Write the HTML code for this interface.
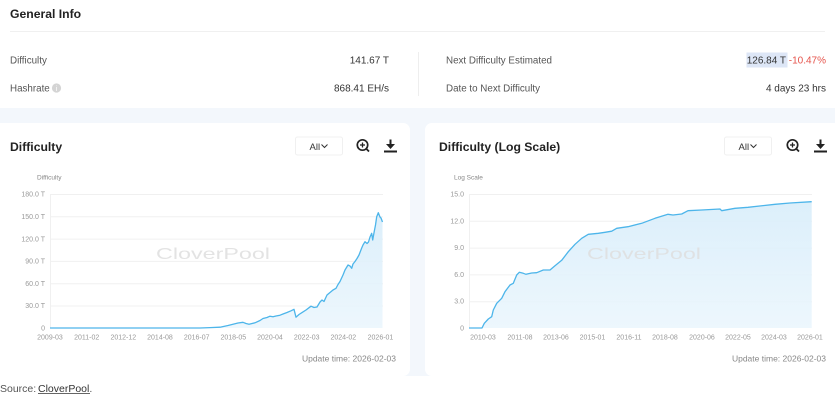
<!DOCTYPE html>
<html><head><meta charset="utf-8"><style>
html,body{margin:0;padding:0;background:#fff;}
body{width:835px;height:400px;overflow:hidden;position:relative;font-family:"Liberation Sans",Arial,sans-serif;}
svg{position:absolute;left:0;top:0;}
</style></head><body>
<svg width="835" height="400" viewBox="0 0 835 400" xmlns="http://www.w3.org/2000/svg" font-family="Liberation Sans, Arial, sans-serif">
<defs>
<linearGradient id="g" x1="0" y1="0" x2="0" y2="1">
<stop offset="0" stop-color="#d8edfa" stop-opacity="0.9"/>
<stop offset="1" stop-color="#ebf6fd" stop-opacity="0.9"/>
</linearGradient>
</defs>
<rect x="0" y="0" width="835" height="400" fill="#fff"/>
<!-- General info -->
<text x="10" y="18" font-size="12.2" font-weight="bold" fill="#222">General Info</text>
<line x1="10" y1="31.5" x2="825" y2="31.5" stroke="#f0f0f0" stroke-width="1"/>
<text x="10" y="63.5" font-size="9.8" fill="#555">Difficulty</text>
<text x="389" y="63.5" font-size="10" fill="#333" text-anchor="end">141.67 T</text>
<text x="10" y="91.5" font-size="9.8" fill="#555">Hashrate</text>
<circle cx="56.5" cy="88" r="4.6" fill="#d4d4d4"/>
<text x="56.5" y="91" font-size="7" fill="#fff" text-anchor="middle">i</text>
<text x="389" y="91.5" font-size="10" fill="#333" text-anchor="end">868.41 EH/s</text>
<line x1="418.5" y1="52" x2="418.5" y2="96" stroke="#eee" stroke-width="1"/>
<text x="446" y="63.5" font-size="9.8" fill="#555">Next Difficulty Estimated</text>
<rect x="746.5" y="52.5" width="41" height="15" fill="#dde6f6"/>
<text x="786" y="63.5" font-size="10" fill="#333" text-anchor="end">126.84 T</text>
<text x="826" y="63.5" font-size="10" fill="#e5534b" text-anchor="end">-10.47%</text>
<text x="446" y="91.5" font-size="9.8" fill="#555">Date to Next Difficulty</text>
<text x="826" y="91.5" font-size="10" fill="#333" text-anchor="end">4 days 23 hrs</text>

<!-- background band -->
<rect x="0" y="108" width="835" height="268" fill="#f3f7fc"/>
<rect x="-10" y="123" width="420" height="253" rx="7" fill="#fff"/>
<rect x="425" y="123" width="420" height="253" rx="7" fill="#fff"/>

<!-- Left card header -->
<text x="10" y="151" font-size="12.2" font-weight="bold" fill="#222">Difficulty</text>
<rect x="295.5" y="137" width="47" height="18" rx="2" fill="#fff" stroke="#f0f0f0"/>
<text x="309.5" y="150" font-size="9.5" fill="#333">All</text>
<path d="M321.5,144.5 L324.5,147.5 L327.5,144.5" fill="none" stroke="#333" stroke-width="1"/>
<circle cx="362.5" cy="145" r="5.2" fill="none" stroke="#222" stroke-width="1.7"/>
<line x1="366.3" y1="148.8" x2="369" y2="151.5" stroke="#222" stroke-width="1.8"/>
<line x1="360" y1="145" x2="365" y2="145" stroke="#222" stroke-width="1.3"/>
<line x1="362.5" y1="142.5" x2="362.5" y2="147.5" stroke="#222" stroke-width="1.3"/>
<line x1="390.5" y1="139.5" x2="390.5" y2="147" stroke="#222" stroke-width="2"/>
<path d="M386,144 L390.5,149 L395,144 Z" fill="#222"/>
<rect x="384" y="150.5" width="13" height="2" fill="#222"/>

<!-- Right card header -->
<text x="439" y="151" font-size="12.2" font-weight="bold" fill="#222">Difficulty (Log Scale)</text>
<rect x="724.5" y="137" width="47" height="18" rx="2" fill="#fff" stroke="#f0f0f0"/>
<text x="738.5" y="150" font-size="9.5" fill="#333">All</text>
<path d="M750.5,144.5 L753.5,147.5 L756.5,144.5" fill="none" stroke="#333" stroke-width="1"/>
<circle cx="792.5" cy="145" r="5.2" fill="none" stroke="#222" stroke-width="1.7"/>
<line x1="796.3" y1="148.8" x2="799" y2="151.5" stroke="#222" stroke-width="1.8"/>
<line x1="790" y1="145" x2="795" y2="145" stroke="#222" stroke-width="1.3"/>
<line x1="792.5" y1="142.5" x2="792.5" y2="147.5" stroke="#222" stroke-width="1.3"/>
<line x1="820.5" y1="139.5" x2="820.5" y2="147" stroke="#222" stroke-width="2"/>
<path d="M816,144 L820.5,149 L825,144 Z" fill="#222"/>
<rect x="814" y="150.5" width="13" height="2" fill="#222"/>

<!-- Left chart -->
<text x="37" y="179.5" font-size="6.5" fill="#888">Difficulty</text>
<g stroke="#f0f0f0" stroke-width="1">
<line x1="50" y1="194.5" x2="383" y2="194.5"/>
<line x1="50" y1="216.8" x2="383" y2="216.8"/>
<line x1="50" y1="239.1" x2="383" y2="239.1"/>
<line x1="50" y1="261.4" x2="383" y2="261.4"/>
<line x1="50" y1="283.7" x2="383" y2="283.7"/>
<line x1="50" y1="306" x2="383" y2="306"/>
<line x1="50.5" y1="194" x2="50.5" y2="328"/>
</g>
<g font-size="7" fill="#999" text-anchor="end">
<text x="45" y="196.5">180.0 T</text>
<text x="45" y="219">150.0 T</text>
<text x="45" y="241.3">120.0 T</text>
<text x="45" y="263.6">90.0 T</text>
<text x="45" y="285.9">60.0 T</text>
<text x="45" y="308.2">30.0 T</text>
<text x="45" y="330.5">0</text>
</g>
<path d="M50,328 L200,328 L210,327.6 L220,327.2 L228,325.5 L233,324.3 L238,323 L243,322.3 L246,323.5 L249,324.2 L255,322.8 L260,320.5 L263,318.5 L267,317.5 L270,316.2 L273,316.8 L276,316 L280,315.2 L283,314 L287,312.5 L291,310.8 L294,309.3 L296,317.2 L299,314.5 L302,312.6 L306,310 L311,306.2 L314,307.5 L317,307 L320,302 L322,300 L324,301.5 L327,295 L330,292.5 L333,290 L336,288.3 L338,284.5 L340,281.5 L343,275 L345,270 L348,265 L350,266 L351.7,268.3 L353,264 L355,261.5 L357,258.5 L359,255 L361.7,248 L363,245 L365,241.7 L367,243.5 L368.5,242 L370,237 L371.7,233.3 L372.7,240 L374,232.7 L375.5,225 L376.7,216.7 L378.3,212.7 L380,217 L381,218 L382.5,222 L382.5,328 Z" fill="url(#g)"/>
<text x="213" y="259" font-size="16" fill="#dedede" fill-opacity="0.85" text-anchor="middle" textLength="114" lengthAdjust="spacingAndGlyphs">CloverPool</text>
<path d="M50,328 L200,328 L210,327.6 L220,327.2 L228,325.5 L233,324.3 L238,323 L243,322.3 L246,323.5 L249,324.2 L255,322.8 L260,320.5 L263,318.5 L267,317.5 L270,316.2 L273,316.8 L276,316 L280,315.2 L283,314 L287,312.5 L291,310.8 L294,309.3 L296,317.2 L299,314.5 L302,312.6 L306,310 L311,306.2 L314,307.5 L317,307 L320,302 L322,300 L324,301.5 L327,295 L330,292.5 L333,290 L336,288.3 L338,284.5 L340,281.5 L343,275 L345,270 L348,265 L350,266 L351.7,268.3 L353,264 L355,261.5 L357,258.5 L359,255 L361.7,248 L363,245 L365,241.7 L367,243.5 L368.5,242 L370,237 L371.7,233.3 L372.7,240 L374,232.7 L375.5,225 L376.7,216.7 L378.3,212.7 L380,217 L381,218 L382.5,222" fill="none" stroke="#4db5ea" stroke-width="1.3" stroke-linejoin="round"/>
<g font-size="7" fill="#999" text-anchor="middle">
<text x="50" y="339.5">2009-03</text>
<text x="86.7" y="339.5">2011-02</text>
<text x="123.3" y="339.5">2012-12</text>
<text x="160" y="339.5">2014-08</text>
<text x="196.7" y="339.5">2016-07</text>
<text x="233.3" y="339.5">2018-05</text>
<text x="270" y="339.5">2020-04</text>
<text x="306.7" y="339.5">2022-03</text>
<text x="343.3" y="339.5">2024-02</text>
<text x="380.5" y="339.5">2026-01</text>
</g>
<text x="396" y="361.5" font-size="8.5" fill="#888" text-anchor="end">Update time: 2026-02-03</text>

<!-- Right chart -->
<text x="454" y="179.5" font-size="6.5" fill="#888">Log Scale</text>
<g stroke="#f0f0f0" stroke-width="1">
<line x1="469" y1="194.5" x2="812" y2="194.5"/>
<line x1="469" y1="221.3" x2="812" y2="221.3"/>
<line x1="469" y1="248.1" x2="812" y2="248.1"/>
<line x1="469" y1="274.9" x2="812" y2="274.9"/>
<line x1="469" y1="301.7" x2="812" y2="301.7"/>
<line x1="469.5" y1="194" x2="469.5" y2="328"/>
</g>
<g font-size="7" fill="#999" text-anchor="end">
<text x="464" y="196.5">15.0</text>
<text x="464" y="223.3">12.0</text>
<text x="464" y="250.1">9.0</text>
<text x="464" y="276.9">6.0</text>
<text x="464" y="303.7">3.0</text>
<text x="464" y="330.5">0</text>
</g>
<path d="M469,328 L482,328 L484.3,323.3 L488.3,319 L491.7,316.7 L493.3,310 L496.7,303.3 L501.7,298.3 L505,291.7 L510,285 L513.3,283.3 L516.7,275 L519.3,272.3 L523.3,273.3 L526,274.3 L531.7,273 L536.7,272.7 L543.3,270 L550,270 L555,265.7 L561.7,260.3 L568.3,251.7 L575,244.3 L581.7,238.3 L588.3,234.3 L598.3,233.3 L605,232.3 L611.7,231.2 L616.7,228.3 L628,226.7 L641.7,223.3 L655,218.3 L668,214.3 L673,215 L681.7,214 L688,210.7 L701.7,210 L720,209 L721.7,210.7 L735,208.3 L748,207.3 L775,204.3 L790,203 L811.7,201.7 L811.7,328 Z" fill="url(#g)"/>
<text x="644" y="259" font-size="16" fill="#dedede" fill-opacity="0.85" text-anchor="middle" textLength="114" lengthAdjust="spacingAndGlyphs">CloverPool</text>
<path d="M469,328 L482,328 L484.3,323.3 L488.3,319 L491.7,316.7 L493.3,310 L496.7,303.3 L501.7,298.3 L505,291.7 L510,285 L513.3,283.3 L516.7,275 L519.3,272.3 L523.3,273.3 L526,274.3 L531.7,273 L536.7,272.7 L543.3,270 L550,270 L555,265.7 L561.7,260.3 L568.3,251.7 L575,244.3 L581.7,238.3 L588.3,234.3 L598.3,233.3 L605,232.3 L611.7,231.2 L616.7,228.3 L628,226.7 L641.7,223.3 L655,218.3 L668,214.3 L673,215 L681.7,214 L688,210.7 L701.7,210 L720,209 L721.7,210.7 L735,208.3 L748,207.3 L775,204.3 L790,203 L811.7,201.7" fill="none" stroke="#4db5ea" stroke-width="1.3" stroke-linejoin="round"/>
<g font-size="7" fill="#999" text-anchor="middle">
<text x="483" y="339.5">2010-03</text>
<text x="520" y="339.5">2011-08</text>
<text x="556" y="339.5">2013-06</text>
<text x="592.5" y="339.5">2015-01</text>
<text x="629" y="339.5">2016-11</text>
<text x="665" y="339.5">2018-08</text>
<text x="702" y="339.5">2020-06</text>
<text x="738" y="339.5">2022-05</text>
<text x="774" y="339.5">2024-03</text>
<text x="810" y="339.5">2026-01</text>
</g>
<text x="826" y="361.5" font-size="8.5" fill="#888" text-anchor="end">Update time: 2026-02-03</text>

<!-- Source -->
<text x="0" y="392" font-size="10.5" fill="#555">Source:</text>
<text x="38" y="392" font-size="10.5" fill="#333">CloverPool<tspan fill="#555">.</tspan></text>
<line x1="38" y1="393.5" x2="90" y2="393.5" stroke="#333" stroke-width="0.8"/>
</svg>
</body></html>
